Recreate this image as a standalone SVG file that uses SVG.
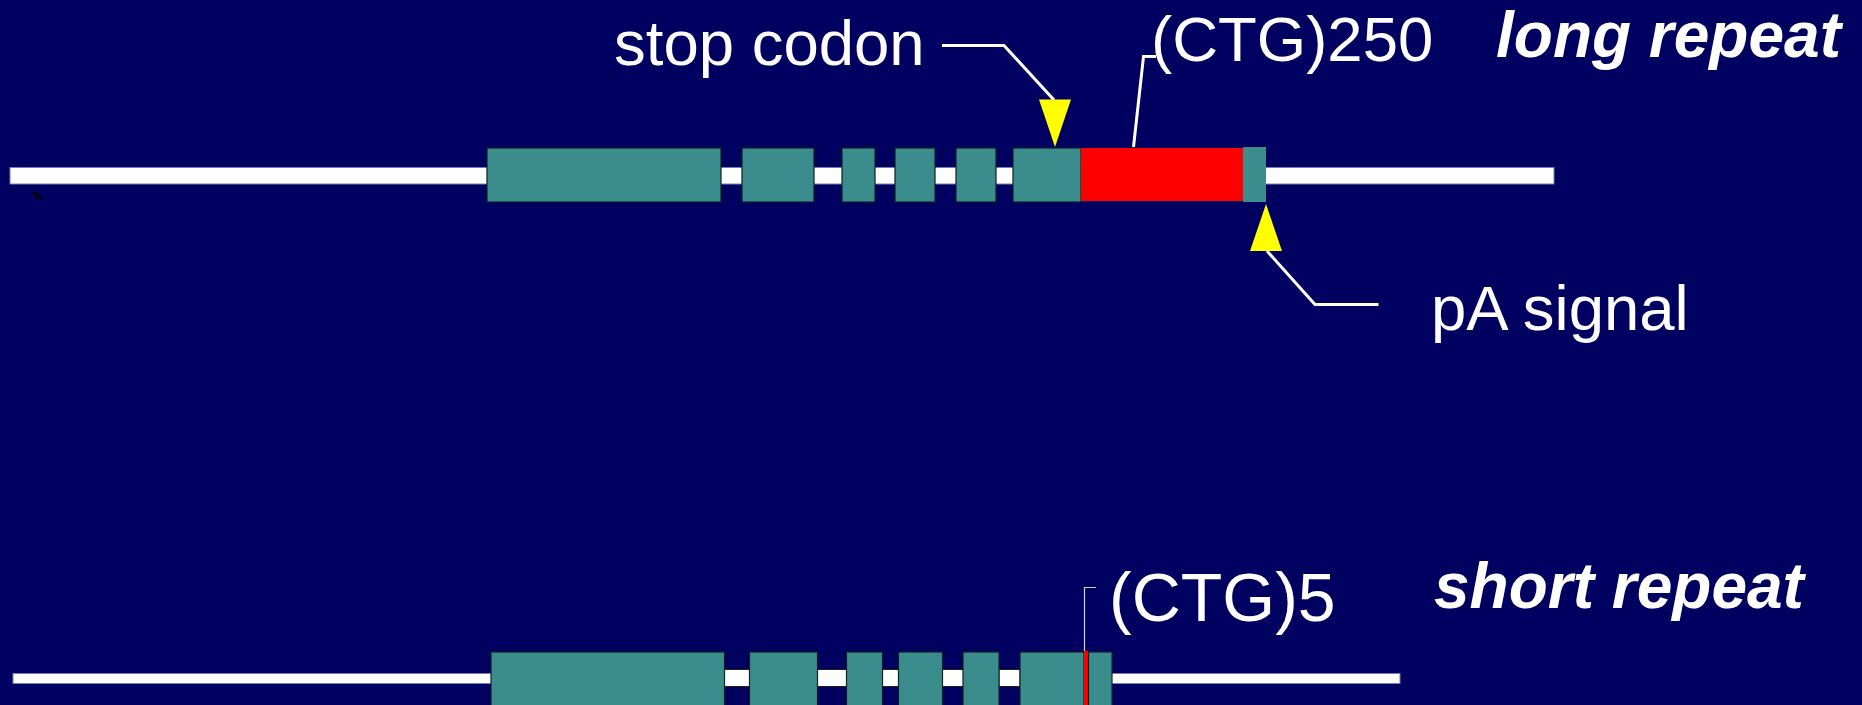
<svg xmlns="http://www.w3.org/2000/svg" width="1862" height="705" viewBox="0 0 1862 705">
<style>
.bar{fill:#ffffff;stroke:#7a7ab8;stroke-width:1}
.seg{fill:#ffffff;stroke:#202020;stroke-width:1}
.exon{fill:#3a8d8c;stroke:#0c2222;stroke-width:1.2}
.rep{fill:#ff0000}
.lead{fill:none;stroke:#ffffff;stroke-width:3}
.thin{fill:none;stroke:#d0d0e0;stroke-width:1.2}
.tri{fill:#ffff00}
.lbl{font-family:"Liberation Sans",Arial,sans-serif;font-size:63.5px;fill:#ffffff}
.ttl{font-family:"Liberation Sans",Arial,sans-serif;font-size:64px;font-weight:bold;font-style:italic;fill:#ffffff}
</style>
<rect x="0" y="0" width="1862" height="705" fill="#000060"/>
<g id="long-gene">
<rect class="bar" x="10" y="167.5" width="1544" height="16.5"/>
<line x1="33" y1="192" x2="41" y2="199" stroke="#000000" stroke-width="3"/>
<rect class="exon" x="487" y="148" width="234" height="54"/>
<rect class="exon" x="742" y="148" width="72" height="54"/>
<rect class="exon" x="842" y="148" width="33" height="54"/>
<rect class="exon" x="895" y="148" width="40" height="54"/>
<rect class="exon" x="956" y="148" width="40" height="54"/>
<rect class="exon" x="1013" y="148" width="68" height="54"/>
<rect class="rep" x="1081" y="148" width="162" height="53"/>
<rect x="1243" y="147" width="23" height="55" fill="#3a8d8c"/>
</g>
<g id="short-gene">
<rect class="bar" x="13" y="673.5" width="1387" height="10"/>
<rect class="seg" x="724" y="669.5" width="26" height="17"/>
<rect class="seg" x="817" y="669.5" width="30" height="17"/>
<rect class="seg" x="882" y="669.5" width="17" height="17"/>
<rect class="seg" x="942" y="669.5" width="22" height="17"/>
<rect class="seg" x="999" y="669.5" width="21" height="17"/>
<rect class="exon" x="491" y="652" width="233.5" height="56"/>
<rect class="exon" x="749.5" y="652" width="68" height="56"/>
<rect class="exon" x="846.5" y="652" width="36" height="56"/>
<rect class="exon" x="898.5" y="652" width="44" height="56"/>
<rect class="exon" x="963" y="652" width="36" height="56"/>
<rect class="exon" x="1020" y="652" width="64" height="56"/>
<rect class="rep" x="1084" y="651" width="4" height="57"/>
<rect class="exon" x="1088.5" y="652" width="23.5" height="56"/>
</g>
<g id="connectors">
<polyline class="lead" points="942,45.5 1004,45.5 1054,100"/>
<polygon class="tri" points="1039,99.5 1071,99.5 1055,147"/>
<polyline class="lead" points="1133.5,147 1143.5,56.5 1156,56.5"/>
<polygon class="tri" points="1250,251 1282,251 1266,204"/>
<polyline class="lead" points="1267,251 1315,304.5 1378.5,304.5"/>
<polyline class="thin" points="1084.5,651 1084.5,587.5 1096,587.5"/>
</g>
<g id="labels">
<text class="lbl" x="614" y="64.5">stop codon</text>
<text class="lbl" x="1151" y="61">(CTG)250</text>
<text class="lbl" x="1431" y="329.5">pA signal</text>
<text class="lbl" x="1109" y="621" style="font-size:68px">(CTG)5</text>
<text class="ttl" x="1496" y="57">long repeat</text>
<text class="ttl" x="1434" y="608">short repeat</text>
</g>
</svg>
